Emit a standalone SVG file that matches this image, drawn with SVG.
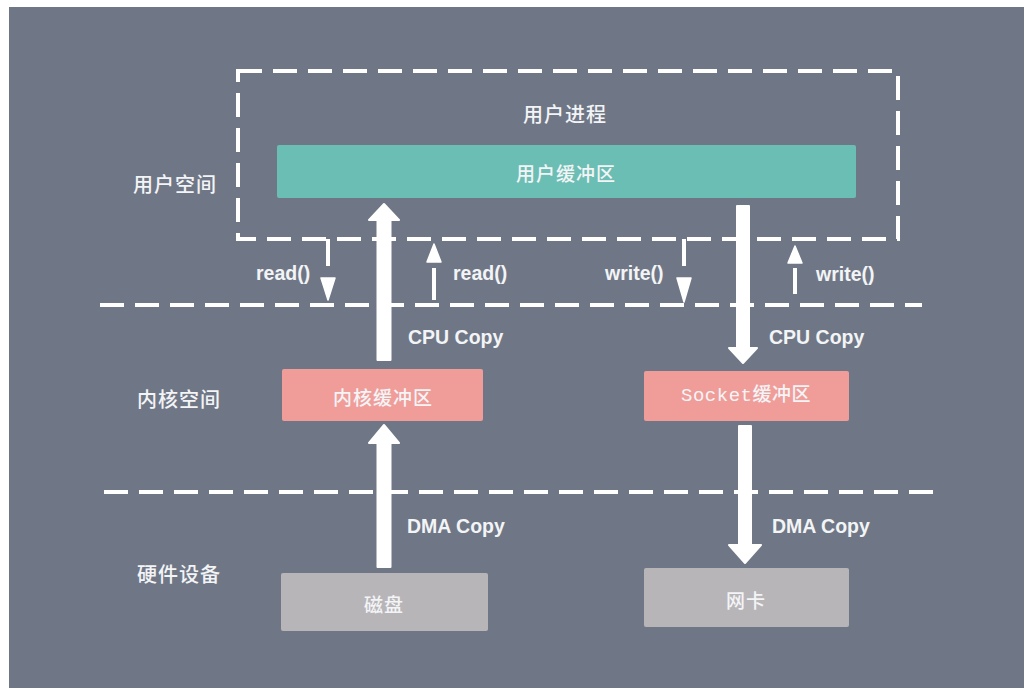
<svg xmlns="http://www.w3.org/2000/svg" width="1029" height="698" viewBox="0 0 1029 698">
<style>
.cjk{font-family:"Noto Sans CJK SC","Noto Sans",sans-serif;font-size:19px;font-weight:500;fill:#f3f4f6;text-anchor:middle;dominant-baseline:central;letter-spacing:1px}
.side{font-size:20px}
.lbl{font-family:"Liberation Sans",Arial,sans-serif;font-size:19.5px;font-weight:bold;fill:#f3f4f6;dominant-baseline:central}
.dash{stroke:#ffffff;stroke-width:4;fill:none;stroke-dasharray:24 11}
.big{fill:#ffffff;stroke:#ffffff;stroke-width:2;stroke-linejoin:round}
.head{fill:#ffffff;stroke:#ffffff;stroke-width:1.5;stroke-linejoin:round}
.thin{stroke:#ffffff;stroke-width:4;fill:none}
</style>
<rect x="0" y="0" width="1029" height="698" fill="#ffffff"/>
<rect x="9" y="7" width="1015" height="681" fill="#6f7786"/>

<g id="layers">
  <rect class="dash" x="238" y="71" width="660" height="168"/>
  <line class="dash" x1="100" y1="305" x2="922" y2="305"/>
  <line class="dash" x1="104" y1="492" x2="934" y2="492"/>
  <text class="cjk side" x="175" y="183">用户空间</text>
  <text class="cjk side" x="179" y="398">内核空间</text>
  <text class="cjk side" x="179" y="573">硬件设备</text>
  <text class="cjk side" x="565" y="113">用户进程</text>
</g>

<g id="user-buffer">
  <rect x="277" y="145" width="579" height="53" rx="2" fill="#6bbeb3"/>
  <text class="cjk" x="566" y="172">用户缓冲区</text>
</g>

<g id="kernel-buffer">
  <rect x="282" y="369" width="201" height="52" rx="2" fill="#f09d9a"/>
  <text class="cjk" x="383" y="396">内核缓冲区</text>
</g>

<g id="socket-buffer">
  <rect x="644" y="371" width="205" height="50" rx="2" fill="#f09d9a"/>
  <text class="cjk" x="746" y="396" style="font-family:'Liberation Mono','Noto Sans CJK SC',monospace;letter-spacing:0.5px">Socket缓冲区</text>
</g>

<g id="disk">
  <rect x="281" y="573" width="207" height="58" rx="2" fill="#b8b5b9"/>
  <text class="cjk" x="384" y="603">磁盘</text>
</g>

<g id="nic">
  <rect x="644" y="568" width="205" height="59" rx="2" fill="#b8b5b9"/>
  <text class="cjk" x="746" y="599">网卡</text>
</g>

<g id="connectors">
  <path class="big" d="M377.5,360 L377.5,220 L369,220 L384,204 L399,220 L390.5,220 L390.5,360 Z"/>
  <path class="big" d="M377.5,567 L377.5,443 L369,443 L384,425 L399,443 L390.5,443 L390.5,567 Z"/>
  <path class="big" d="M737,206 L737,348 L729,348 L743,363 L757,348 L749,348 L749,206 Z"/>
  <path class="big" d="M739,426 L739,545 L729,545 L745,563 L761,545 L751,545 L751,426 Z"/>

  <line class="thin" x1="328" y1="239" x2="328" y2="266"/>
  <path class="head" d="M321,278 L335,278 L328,300 Z"/>
  <line class="thin" x1="434" y1="268" x2="434" y2="300"/>
  <path class="head" d="M427,262 L441,262 L434,244 Z"/>
  <line class="thin" x1="684" y1="239" x2="684" y2="266"/>
  <path class="head" d="M677,278 L691,278 L684,302 Z"/>
  <line class="thin" x1="795" y1="268" x2="795" y2="294"/>
  <path class="head" d="M788,263 L802,263 L795,246 Z"/>

  <text class="lbl" x="256" y="273">read()</text>
  <text class="lbl" x="453" y="273">read()</text>
  <text class="lbl" x="605" y="273">write()</text>
  <text class="lbl" x="816" y="274">write()</text>
  <text class="lbl" x="408" y="337">CPU Copy</text>
  <text class="lbl" x="769" y="337">CPU Copy</text>
  <text class="lbl" x="407" y="526">DMA Copy</text>
  <text class="lbl" x="772" y="526">DMA Copy</text>
</g>
</svg>
